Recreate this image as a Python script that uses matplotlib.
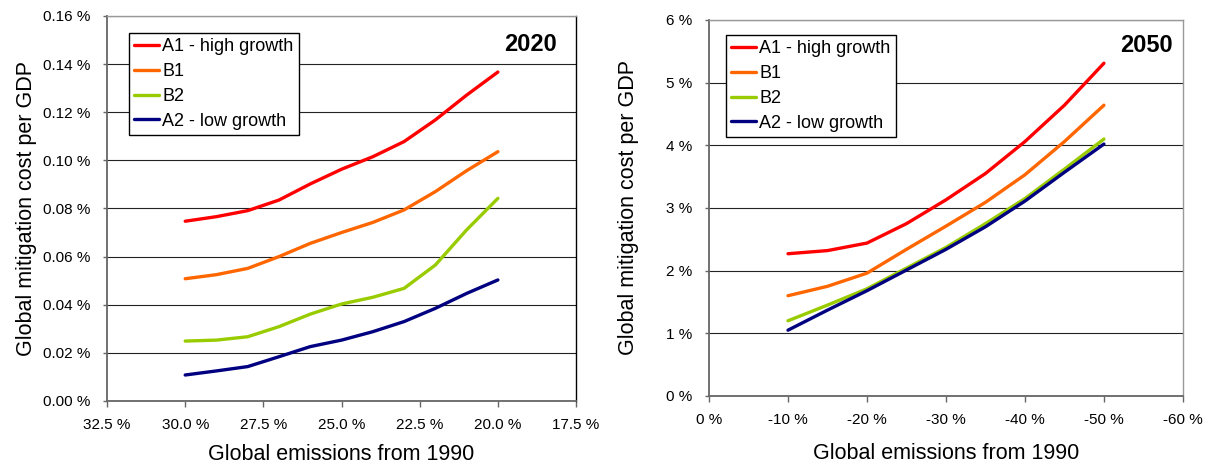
import matplotlib.pyplot as plt
from matplotlib.ticker import FixedLocator, FuncFormatter

plt.rcParams['font.family'] = ['Liberation Sans', 'DejaVu Sans']

# 2020 panel: emissions vs 1990 (%) and cost per GDP (%)
emis_2020 = [30, 29, 28, 27, 26, 25, 24, 23, 22, 21, 20]
a1_2020 = [0.0747, 0.0766, 0.0791, 0.0835, 0.0902, 0.0963, 0.1015, 0.1078, 0.1168, 0.1271, 0.1367]
b1_2020 = [0.0508, 0.0525, 0.0551, 0.0600, 0.0655, 0.0700, 0.0742, 0.0794, 0.0870, 0.0957, 0.1036]
b2_2020 = [0.0249, 0.0253, 0.0267, 0.0309, 0.0361, 0.0403, 0.0431, 0.0468, 0.0565, 0.0711, 0.0842]
a2_2020 = [0.0108, 0.0125, 0.0143, 0.0184, 0.0226, 0.0253, 0.0288, 0.0330, 0.0385, 0.0447, 0.0503]

# 2050 panel
emis_2050 = [-10, -15, -20, -25, -30, -35, -40, -45, -50]
a1_2050 = [2.27, 2.32, 2.44, 2.75, 3.13, 3.55, 4.06, 4.64, 5.31]
b1_2050 = [1.60, 1.75, 1.96, 2.34, 2.71, 3.09, 3.53, 4.06, 4.64]
b2_2050 = [1.20, 1.45, 1.71, 2.04, 2.37, 2.75, 3.15, 3.62, 4.10]
a2_2050 = [1.05, 1.37, 1.68, 2.01, 2.34, 2.70, 3.11, 3.57, 4.02]

names = ['A1 - high growth', 'B1', 'B2', 'A2 - low growth']
colors = ['#ff0000', '#ff6600', '#99cc00', '#000080']

fig = plt.figure(figsize=(12.12, 4.69), dpi=100)
ax1 = fig.add_axes([0.0883, 0.145, 0.387, 0.821])
ax2 = fig.add_axes([0.585, 0.1557, 0.391, 0.8017])


def style(ax, right_color):
    for s in ['left', 'bottom']:
        ax.spines[s].set_color('#666666')
        ax.spines[s].set_linewidth(1.3)
    ax.spines['top'].set_color('#999999')
    ax.spines['right'].set_color(right_color)
    ax.spines['top'].set_linewidth(1.0)
    ax.spines['right'].set_linewidth(1.0)
    ax.yaxis.grid(True, color='#222222', linewidth=0.8)
    ax.set_axisbelow(True)
    ax.tick_params(axis='x', length=4, width=1, color='#666666', pad=8, labelsize=11)
    ax.tick_params(axis='y', length=3, width=1, color='#666666', pad=9, labelsize=11)
    ax.set_xlabel('Global emissions from 1990', fontsize=15.5)
    ax.set_ylabel('Global mitigation cost per GDP', fontsize=15.5)
    ax.xaxis.label.set_va('center')
    ax.yaxis.label.set_va('center')


# left: 2020
series_2020 = [a1_2020, b1_2020, b2_2020, a2_2020]
for vals, name, c in zip(series_2020, names, colors):
    ax1.plot(emis_2020, vals, color=c, lw=2.4, label=name, solid_capstyle='round')
ax1.set_xlim(32.5, 17.5)
ax1.set_ylim(0, 0.16)
ax1.xaxis.set_major_locator(FixedLocator([32.5, 30, 27.5, 25, 22.5, 20, 17.5]))
ax1.xaxis.set_major_formatter(FuncFormatter(lambda v, p: f'{v:.1f} %'))
ax1.yaxis.set_major_locator(FixedLocator([0, 0.02, 0.04, 0.06, 0.08, 0.10, 0.12, 0.14, 0.16]))
ax1.yaxis.set_major_formatter(FuncFormatter(lambda v, p: f'{v:.2f} %'))
style(ax1, '#000000')
ax1.xaxis.set_label_coords(0.5, -0.138)
ax1.yaxis.set_label_coords(-0.171, 0.5)
ax1.text(0.959, 0.925, '2020', transform=ax1.transAxes, ha='right', va='center',
         fontsize=17, fontweight='bold')
leg1 = ax1.legend(loc='upper left', bbox_to_anchor=(0.047, 0.956), fontsize=13,
                  frameon=True, fancybox=False, edgecolor='black', framealpha=1,
                  handlelength=1.35, handletextpad=0.2, borderpad=0.3,
                  labelspacing=0.43, borderaxespad=0)
leg1.get_frame().set_linewidth(1.0)

# right: 2050
series_2050 = [a1_2050, b1_2050, b2_2050, a2_2050]
for vals, name, c in zip(series_2050, names, colors):
    ax2.plot(emis_2050, vals, color=c, lw=2.4, label=name, solid_capstyle='round')
ax2.set_xlim(0, -60)
ax2.set_ylim(0, 6)
ax2.xaxis.set_major_locator(FixedLocator([0, -10, -20, -30, -40, -50, -60]))
ax2.xaxis.set_major_formatter(FuncFormatter(lambda v, p: f'{v:.0f} %'))
ax2.yaxis.set_major_locator(FixedLocator([0, 1, 2, 3, 4, 5, 6]))
ax2.yaxis.set_major_formatter(FuncFormatter(lambda v, p: f'{v:.0f} %'))
style(ax2, '#999999')
ax2.xaxis.set_label_coords(0.5, -0.154)
ax2.yaxis.set_label_coords(-0.169, 0.5)
ax2.text(0.979, 0.931, '2050', transform=ax2.transAxes, ha='right', va='center',
         fontsize=17, fontweight='bold')
leg2 = ax2.legend(loc='upper left', bbox_to_anchor=(0.036, 0.960), fontsize=13,
                  frameon=True, fancybox=False, edgecolor='black', framealpha=1,
                  handlelength=1.35, handletextpad=0.2, borderpad=0.3,
                  labelspacing=0.43, borderaxespad=0)
leg2.get_frame().set_linewidth(1.0)

fig.savefig('out.png', dpi=100)
